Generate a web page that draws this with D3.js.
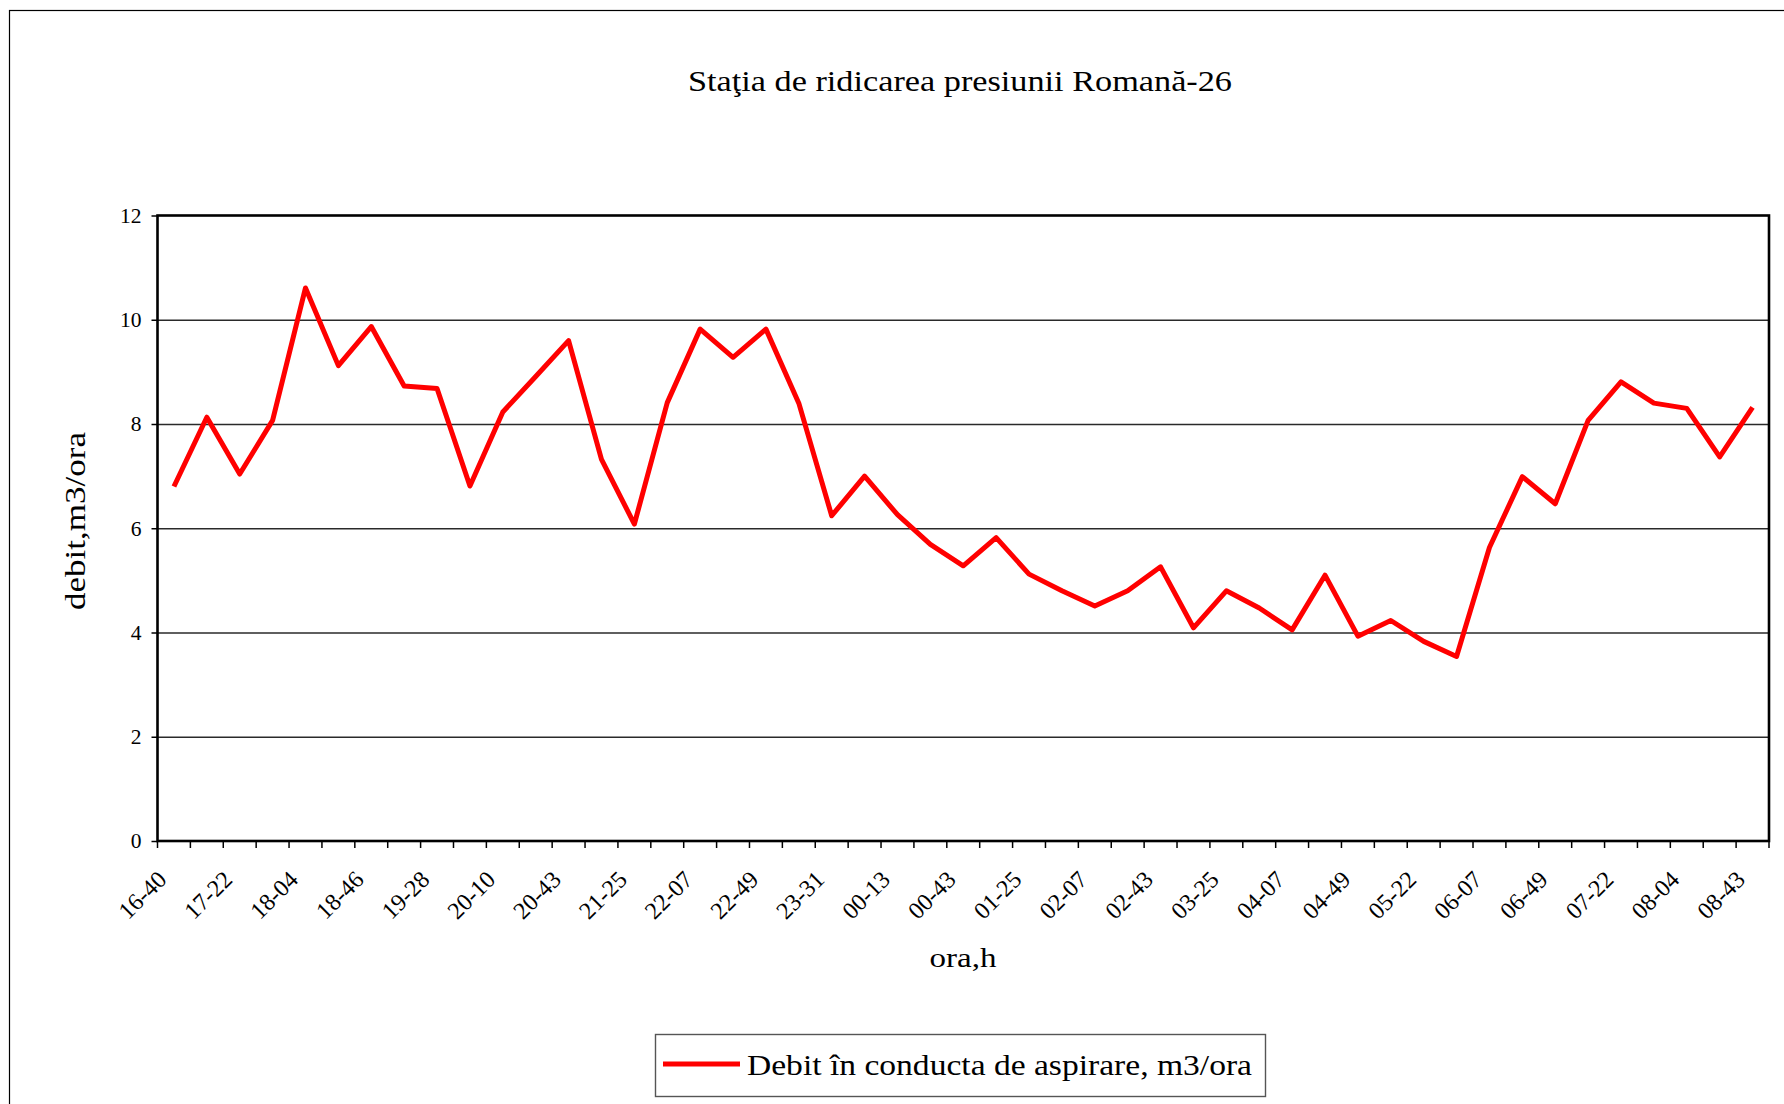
<!DOCTYPE html>
<html>
<head>
<meta charset="utf-8">
<script src="https://cdn.jsdelivr.net/npm/d3@7"></script>
<style>
  html, body { margin: 0; padding: 0; background: #fff; }
  svg { display: block; font-family: "Liberation Serif", "Times New Roman", serif; }
</style>
</head>
<body>
<svg id="chart" width="1784" height="1104"></svg>
<script>
// Flow in the suction pipe, sampled roughly every 21 minutes (49 readings)
const flowValues = [
  6.80, 8.13, 7.04, 8.07, 10.61, 9.12, 9.87, 8.73, 8.68, 6.81,
  8.23, 8.91, 9.60, 7.32, 6.08, 8.41, 9.82, 9.28, 9.82, 8.40,
  6.24, 7.00, 6.26, 5.69, 5.28, 5.82, 5.12, 4.80, 4.51, 4.80,
  5.26, 4.09, 4.80, 4.47, 4.05, 5.10, 3.93, 4.23, 3.83, 3.54,
  5.63, 6.99, 6.47, 8.07, 8.81, 8.40, 8.30, 7.37, 8.32
];

// Time labels shown under every second reading
const timeLabels = [
  "16-40", "17-22", "18-04", "18-46", "19-28", "20-10", "20-43", "21-25",
  "22-07", "22-49", "23-31", "00-13", "00-43", "01-25", "02-07", "02-43",
  "03-25", "04-07", "04-49", "05-22", "06-07", "06-49", "07-22", "08-04", "08-43"
];

const yTicks = [0, 2, 4, 6, 8, 10, 12];

const chartTitle = "Staţia de ridicarea presiunii Romană-26";
const yTitle = "debit,m3/ora";
const xTitle = "ora,h";
const seriesName = "Debit în conducta de aspirare, m3/ora";

const svg = d3.select("#chart");

const plot = { left: 157.5, right: 1769, top: 215.5, bottom: 841 };

// Outer chart frame (continues past the right and bottom page edges)
svg.append("rect")
  .attr("x", 9.5).attr("y", 10.5)
  .attr("width", 1800).attr("height", 1200)
  .attr("fill", "none").attr("stroke", "#000").attr("stroke-width", 1.2);

const idx = d3.range(flowValues.length);
const x = d3.scaleBand().domain(idx).range([plot.left, plot.right]).padding(0);
const y = d3.scaleLinear().domain([0, 12]).range([plot.bottom, plot.top]);
const cx = i => x(i) + x.bandwidth() / 2;

// Horizontal gridlines
svg.append("g")
  .attr("transform", `translate(${plot.left},0)`)
  .call(d3.axisLeft(y).tickValues(yTicks.filter(v => v > 0 && v < 12))
    .tickSize(-(plot.right - plot.left)).tickFormat(""))
  .call(g => g.select(".domain").remove())
  .call(g => g.selectAll(".tick line").attr("stroke", "#2a2a2a").attr("stroke-width", 1.3));

// Y axis with ticks and labels
svg.append("g")
  .attr("transform", `translate(${plot.left},0)`)
  .call(d3.axisLeft(y).tickValues(yTicks).tickSize(6).tickPadding(10).tickFormat(d3.format("d")))
  .call(g => g.select(".domain").remove())
  .call(g => g.selectAll(".tick line").attr("stroke", "#000").attr("stroke-width", 1.5))
  .call(g => g.selectAll(".tick text")
    .attr("font-family", "Liberation Serif").attr("font-size", 21.5).attr("fill", "#000"));

// X axis: tick marks on category boundaries
const boundaries = d3.range(flowValues.length + 1)
  .map(i => i < flowValues.length ? x(i) : plot.right);
svg.append("g").selectAll("line").data(boundaries).join("line")
  .attr("x1", d => d).attr("x2", d => d)
  .attr("y1", plot.bottom).attr("y2", plot.bottom + 7)
  .attr("stroke", "#000").attr("stroke-width", 1.5);

// X axis: labels on every second category, rotated
const labelIdx = idx.filter(i => i % 2 === 0);
svg.append("g").selectAll("text").data(labelIdx).join("text")
  .attr("transform", i => `translate(${cx(i) - 6},${plot.bottom + 40}) rotate(-45)`)
  .attr("text-anchor", "end")
  .attr("font-size", 24)
  .attr("fill", "#000")
  .text(i => timeLabels[i / 2]);

// Plot area frame
svg.append("rect")
  .attr("x", plot.left).attr("y", plot.top)
  .attr("width", plot.right - plot.left).attr("height", plot.bottom - plot.top)
  .attr("fill", "none").attr("stroke", "#000").attr("stroke-width", 2.6);

// Data line
const line = d3.line().x((d, i) => cx(i)).y(d => y(d));
svg.append("path")
  .datum(flowValues)
  .attr("d", line)
  .attr("fill", "none")
  .attr("stroke", "#ff0000")
  .attr("stroke-width", 5)
  .attr("stroke-linejoin", "round");

// Title (glyphs widened to the set length)
svg.append("text")
  .attr("x", 688).attr("y", 91)
  .attr("font-size", 29.5)
  .attr("textLength", 544)
  .attr("lengthAdjust", "spacingAndGlyphs")
  .attr("fill", "#000")
  .text(chartTitle);

// Axis titles
svg.append("text")
  .attr("transform", `translate(85,521) rotate(-90)`)
  .attr("text-anchor", "middle")
  .attr("font-size", 29)
  .attr("textLength", 178)
  .attr("lengthAdjust", "spacingAndGlyphs")
  .attr("fill", "#000")
  .text(yTitle);

svg.append("text")
  .attr("x", 963).attr("y", 967)
  .attr("text-anchor", "middle")
  .attr("font-size", 27)
  .attr("textLength", 67)
  .attr("lengthAdjust", "spacingAndGlyphs")
  .attr("fill", "#000")
  .text(xTitle);

// Legend
const legend = svg.append("g");
legend.append("rect")
  .attr("x", 655.5).attr("y", 1034.5)
  .attr("width", 610).attr("height", 62)
  .attr("fill", "#fff").attr("stroke", "#555").attr("stroke-width", 1.4);
legend.append("line")
  .attr("x1", 663).attr("x2", 740)
  .attr("y1", 1064).attr("y2", 1064)
  .attr("stroke", "#ff0000").attr("stroke-width", 5);
legend.append("text")
  .attr("x", 747).attr("y", 1075)
  .attr("font-size", 29.5)
  .attr("textLength", 505)
  .attr("lengthAdjust", "spacingAndGlyphs")
  .attr("fill", "#000")
  .text(seriesName);
</script>
</body>
</html>
